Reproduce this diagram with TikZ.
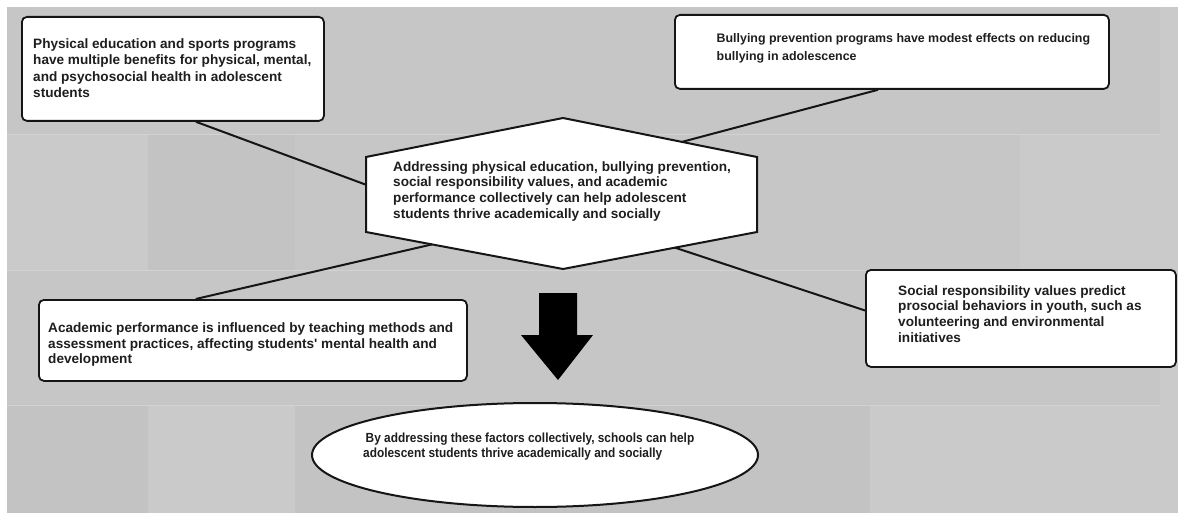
\documentclass[tikz,border=0pt]{standalone}
\usepackage{fontspec}
\setmainfont{Liberation Sans}
\newfontfamily\narrowfont[FakeStretch=0.9]{Liberation Sans}
\usetikzlibrary{calc,shapes.geometric}
\definecolor{bgbase}{HTML}{C6C6C6}
\definecolor{bglight}{HTML}{CACACA}
\definecolor{bgdark}{HTML}{C3C3C3}
\definecolor{tileline}{HTML}{D2D2D2}
\definecolor{textc}{HTML}{1E1E1E}
\definecolor{edgec}{HTML}{151515}
\tikzset{
  rbox/.style={draw=edgec, line width=1.8pt, fill=white, rounded corners=5pt,
    inner sep=0pt, anchor=north west},
  txt/.style={inner sep=0pt, anchor=north west, align=left, text=textc},
  conn/.style={draw=edgec, line width=2pt},
}
\begin{document}
\begin{tikzpicture}[x=1pt,y=-1pt]
\useasboundingbox (0,0) rectangle (1178,513);
% background
\fill[white] (0,0) rectangle (1178,513);
\fill[bgbase] (7,7) rectangle (1178,513);
\fill[bglight] (7,135) rectangle (148,270);
\fill[bgdark] (148,135) rectangle (295,270);
\fill[bglight] (1020,135) rectangle (1160,270);
\fill[bgdark] (7,405) rectangle (148,513);
\fill[bglight] (148,405) rectangle (295,513);
\fill[bgdark] (295,405) rectangle (870,513);
\fill[bglight] (870,405) rectangle (1160,513);
\fill[bglight] (1160,7) rectangle (1178,513);
\draw[tileline, line width=1pt] (7,135) -- (1160,135) (7,270) -- (1160,270) (7,405) -- (1160,405);

% boxes
\node[rbox, minimum width=302pt, minimum height=104pt] (tl) at (21,16) {};
\node[rbox, minimum width=434pt, minimum height=74pt] (tr) at (674,14) {};
\node[rbox, minimum width=428pt, minimum height=81pt] (bl) at (38,299) {};
\node[rbox, minimum width=310pt, minimum height=97pt] (br) at (865,269) {};

% hexagon
\coordinate (hT) at (563,118);
\coordinate (hUR) at (757,157);
\coordinate (hLR) at (757,232);
\coordinate (hB) at (563,269);
\coordinate (hLL) at (366,232);
\coordinate (hUL) at (366,157);
\draw[draw=edgec, line width=2pt, fill=white, line join=miter] (hT) -- (hUR) -- (hLR) -- (hB) -- (hLL) -- (hUL) -- cycle;

% ellipse
\node[ellipse, draw=edgec, line width=2pt, fill=white, minimum width=446pt, minimum height=104pt, inner sep=0pt] (ell) at (535,455) {};

% arrow
\fill[black] (539,293) -- (577,293) -- (577,335) -- (593,335) -- (558,380) -- (521,335) -- (539,335) -- cycle;

% texts
\node[txt, font=\bfseries\fontsize{13.6}{16.3}\selectfont] (tltext) at (33,38.5)
  {Physical education and sports programs\\have multiple benefits for physical, mental,\\and psychosocial health in adolescent\\students};
\node[txt, font=\bfseries\fontsize{12.4}{18}\selectfont] (trtext) at (716.5,33.5)
  {Bullying prevention programs have modest effects on reducing\\bullying in adolescence};
\node[txt, font=\bfseries\fontsize{13.6}{15.7}\selectfont] (hextext) at (393,161)
  {Addressing physical education, bullying prevention,\\social responsibility values, and academic\\performance collectively can help adolescent\\students thrive academically and socially};
\node[txt, font=\bfseries\fontsize{13.6}{15.7}\selectfont] (bltext) at (48,322.5)
  {Academic performance is influenced by teaching methods and\\assessment practices, affecting students\textquotesingle{} mental health and\\development};
\node[txt, font=\bfseries\fontsize{13.6}{15.8}\selectfont] (brtext) at (898,285)
  {Social responsibility values predict\\prosocial behaviors in youth, such as\\volunteering and environmental\\initiatives};
\node[txt, font=\narrowfont\bfseries\fontsize{13.2}{15.5}\selectfont] (elltext) at (363,432.5)
  {\hspace*{2.5pt}By addressing these factors collectively, schools can help\\adolescent students thrive academically and socially};

% connectors
\draw[conn] ($(tl.south west)!0.576!(tl.south east)$) -- ($(hUL)!0.37!(hLL)$);
\draw[conn] ($(tr.south west)!0.468!(tr.south east)$) -- ($(hT)!0.613!(hUR)$);
\draw[conn] ($(bl.north west)!0.367!(bl.north east)$) -- ($(hLL)!0.335!(hB)$);
\draw[conn] ($(hB)!0.577!(hLR)$) -- ($(br.north west)!0.42!(br.south west)$);
\end{tikzpicture}
\end{document}
